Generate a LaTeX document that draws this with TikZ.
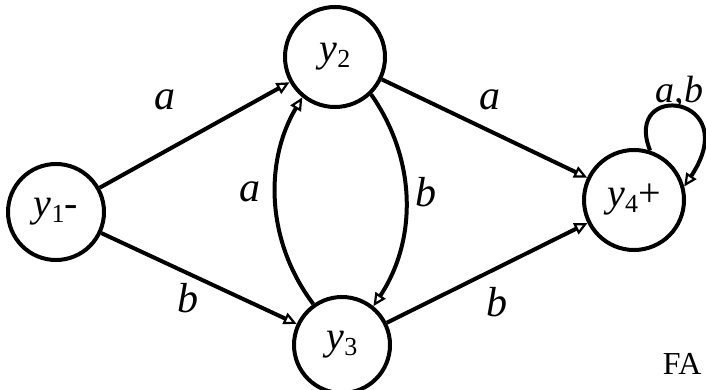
\documentclass[tikz,border=0pt]{standalone}
\usepackage{fontspec}
\setmainfont{Liberation Serif}
\usetikzlibrary{arrows.meta}
\newcommand{\lowsub}[1]{\raisebox{-6pt}{\fontsize{26}{26}\selectfont\upshape #1}}
\begin{document}
\begin{tikzpicture}[x=1pt,y=-1pt,
  state/.style={circle,draw,line width=4pt,minimum size=96pt,inner sep=0pt,font=\fontsize{40}{42}\selectfont\itshape},
  edge/.style={line width=4pt,-{Triangle[open,length=13pt,width=12pt,line width=2.2pt]}},
  lbl/.style={font=\fontsize{42}{44}\selectfont\itshape}]
\useasboundingbox (0,0) rectangle (706,390);
\node[state] (y1) at (56,212) {y\lowsub{1}\upshape -};
\node[state,minimum size=100pt] (y2) at (335,57) {y\lowsub{2}};
\node[state] (y3) at (342,345) {y\lowsub{3}};
\node[state,minimum size=100pt] (y4) at (634,200) {y\lowsub{4}\upshape +};
\draw[edge] (y1) -- (y2);
\draw[edge] (y1) -- (y3);
\draw[edge] (y2) -- (y4);
\draw[edge] (y3) -- (y4);
\draw[edge] (y3.125) .. controls (265,240) and (265,160) .. (y2.231);
\draw[edge] (y2.314) .. controls (417,160) and (417,240) .. (y3.51);
\draw[edge] (y4.72) .. controls (622,80) and (745,95) .. (y4.15);
\node[lbl] (la1) at (165,100) {a};
\node[lbl] (lb1) at (188,298) {b};
\node[lbl] (la2) at (250,192) {a};
\node[lbl] (lb2) at (426,192) {b};
\node[lbl] (la3) at (490,100) {a};
\node[lbl] (lb3) at (497,302) {b};
\node[lbl,anchor=west,font=\fontsize{38}{40}\selectfont\itshape] (lab) at (652,92) {a,b};
\node[font=\fontsize{32}{34}\selectfont,anchor=east] (fa) at (705,364) {FA};
\end{tikzpicture}
\end{document}
